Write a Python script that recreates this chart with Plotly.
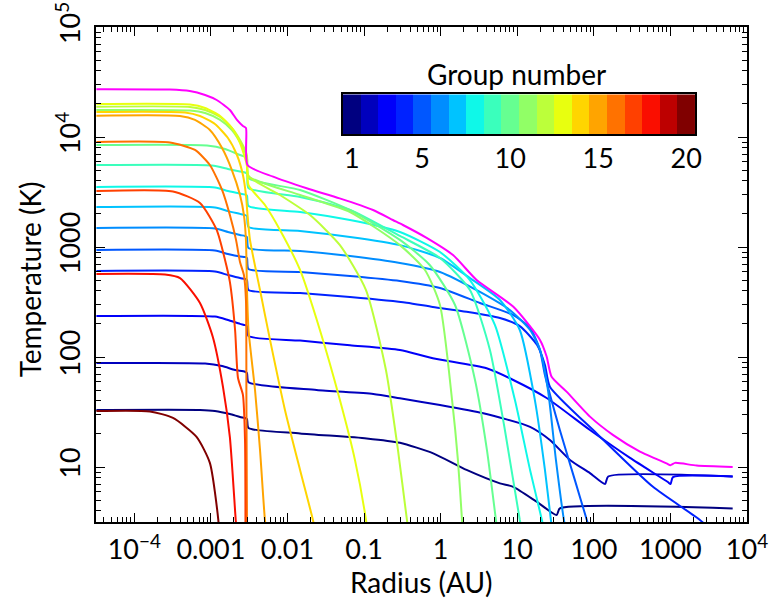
import numpy as np
import plotly.graph_objects as go

# ---------------- data (radius in AU, temperature in K) ----------------
R_TOTAL = [3.2e-5, 2.9e-4, 5.3e-4, 8.4e-4, 1.19e-3, 1.77e-3, 2.19e-3, 2.62e-3, 2.87e-3, 3.01e-3,
           6.5e-3, 0.0178, 0.048, 0.131, 0.238, 0.322, 0.656, 1.45, 2.95, 8.9, 19.8, 24.2, 28.1,
           44, 89, 179, 400, 890, 1000, 1150, 2200, 6500]
T_TOTAL = [27200, 27000, 26200, 24100, 21700, 17600, 14300, 12600, 12100, 5560,
           4360, 3420, 2770, 2170, 1760, 1585, 1210, 845, 501, 286, 143, 101, 66,
           48.4, 28.7, 19.5, 13.8, 10.8, 10.4, 10.9, 10.3, 10.0]

R_G1 = [3.2e-5, 7.2e-4, 1.13e-3, 1.77e-3, 2.4e-3, 2.79e-3, 2.96e-3, 3.1e-3, 0.0146, 0.108, 0.294, 0.8, 2.18, 5.94, 8.87, 17.9, 32.7, 36, 6500]
T_G1 = [33, 33, 32.3, 30.3, 28.5, 27.9, 27.3, 22.6, 20.2, 18.2, 16.6, 13.3, 9.4, 7.1, 6.6, 4.84, 3.66, 4.2, 4.2]

R_G2 = [3.2e-5, 8.4e-4, 1.4e-3, 2.07e-3, 2.79e-3, 2.96e-3, 3.1e-3, 0.024, 0.132, 0.294, 0.98, 3.6, 14.7, 26.7, 48.8, 89, 140, 154, 6500]
T_G2 = [88, 87.3, 82.8, 76.2, 73.5, 71.6, 58.9, 50.1, 46.1, 42.1, 36.6, 30.8, 23.2, 17.6, 11.6, 8.8, 7.0, 8.2, 8.2]

R_G3 = [3.2e-5, 1.13e-3, 1.67e-3, 2.4e-3, 2.79e-3, 2.96e-3, 3.1e-3, 0.0146, 0.0655, 0.294, 0.79, 3.98, 8.87, 24.2, 89, 297, 925, 1005, 1079, 6500]
T_G3 = [236, 233, 217, 200, 195, 191, 155, 141, 128, 116, 97.3, 78.9, 61.8, 42.4, 21.7, 12.1, 7.3, 7.0, 8.1, 8.2]

R_G4 = [3.2e-5, 1.13e-3, 1.67e-3, 2.4e-3, 2.79e-3, 2.96e-3, 3.1e-3, 0.0146, 0.0655, 0.36, 0.79, 2.18, 5.94, 10.8, 18.1, 23, 26.7, 109, 592, 2430, 3810]
T_G4 = [605, 598, 556, 522, 512, 501, 406, 382, 351, 312, 285, 258, 226, 191, 129, 84.6, 53.7, 20.2, 6.6, 3.3, 2.46]

R_G5 = [3.2e-5, 1.13e-3, 1.67e-3, 2.4e-3, 2.79e-3, 2.96e-3, 3.1e-3, 0.0146, 0.0655, 0.294, 0.98, 3.26, 8.8, 14.7, 19.8, 23, 36, 56.6, 81, 89]
T_G5 = [940, 929, 863, 820, 811, 794, 631, 593, 545, 491, 424, 310, 241, 184, 116, 68.6, 21.7, 7.6, 3.3, 2.67]

R_G6 = [3.2e-5, 1.13e-3, 1.67e-3, 2.4e-3, 2.79e-3, 2.96e-3, 3.1e-3, 0.0146, 0.0655, 0.294, 0.98, 3.26, 8.0, 14.7, 19.8, 25.2, 32.0, 40.7, 43.2]
T_G6 = [1490, 1473, 1368, 1285, 1260, 1233, 979, 920, 828, 716, 593, 390, 267, 176, 116, 50.1, 11.6, 3.3, 2.67]

R_G7 = [3.2e-5, 1.13e-3, 1.67e-3, 2.4e-3, 2.79e-3, 2.96e-3, 3.1e-3, 0.0146, 0.0655, 0.294, 0.98, 2.41, 5.94, 10.8, 17.0, 23, 27.5, 29.2]
T_G7 = [2310, 2290, 2120, 2000, 1950, 1910, 1520, 1400, 1233, 1040, 794, 522, 330, 176, 40.6, 9.4, 3.3, 2.41]

R_G8 = [3.2e-5, 1.13e-3, 1.67e-3, 2.4e-3, 2.79e-3, 2.96e-3, 3.1e-3, 0.0146, 0.0655, 0.294, 0.98, 2.41, 5.12, 9.33, 14.7, 21.0, 23]
T_G8 = [3510, 3470, 3230, 3060, 3000, 2940, 2360, 2080, 1760, 1370, 900, 501, 195, 40.6, 9.4, 3.3, 2.41]

R_G9 = [3.2e-5, 1.03e-3, 1.67e-3, 2.4e-3, 2.79e-3, 2.96e-3, 3.1e-3, 0.0146, 0.0655, 0.294, 0.98, 2.41, 4.4, 6.9, 10.8, 11.9]
T_G9 = [5560, 5510, 5120, 4860, 4760, 4660, 3440, 2850, 2170, 1260, 794, 406, 116, 21.7, 3.3, 2.41]

R_G10 = [3.2e-5, 8.9e-4, 1.53e-3, 2.4e-3, 2.79e-3, 2.96e-3, 3.1e-3, 0.0146, 0.0655, 0.294, 0.72, 1.54, 2.81, 4.02, 5.27, 5.6]
T_G10 = [8460, 8370, 7780, 6860, 6620, 6440, 4240, 3300, 2170, 1160, 686, 297, 61.8, 14.3, 3.3, 2.41]

R_G11 = [3.2e-5, 5.33e-4, 8.4e-4, 1.32e-3, 1.88e-3, 2.4e-3, 2.79e-3, 2.96e-3, 3.1e-3, 0.0146, 0.0655, 0.294, 0.624, 0.98, 1.41, 1.68, 1.9, 1.95]
T_G11 = [17600, 17400, 16500, 14290, 11580, 9010, 7310, 6440, 4420, 2970, 2080, 1040, 618, 297, 40.6, 11.6, 3.3, 2.41]

R_G12 = [3.2e-5, 5.33e-4, 8.4e-4, 1.32e-3, 1.88e-3, 2.4e-3, 2.79e-3, 2.96e-3, 3.1e-3, 7.98e-3, 0.0197, 0.0484, 0.106, 0.193, 0.277, 0.363, 0.385]
T_G12 = [18860, 18740, 17600, 15200, 12080, 9390, 7620, 6720, 4420, 2970, 1950, 1040, 406, 76.2, 14.3, 3.3, 2.41]

R_G13 = [3.2e-5, 5.33e-4, 8.4e-4, 1.32e-3, 1.88e-3, 2.4e-3, 2.79e-3, 2.96e-3, 3.1e-3, 5.08e-3, 7.98e-3, 0.0146, 0.0265, 0.0484, 0.076, 0.106, 0.112]
T_G13 = [19950, 19730, 18360, 15520, 12080, 8820, 6440, 5450, 3660, 2410, 1430, 618, 176, 40.6, 11.6, 3.3, 2.41]

R_G14 = [3.2e-5, 4.6e-4, 7.2e-4, 1.13e-3, 1.67e-3, 2.19e-3, 2.62e-3, 2.87e-3, 3.01e-3, 3.24e-3, 4.38e-3, 5.92e-3, 9.27e-3, 0.0146, 0.0215, 0.0235]
T_G14 = [16900, 16700, 15520, 13120, 9790, 6860, 4520, 2970, 1950, 1160, 406, 143, 33, 9.4, 3.3, 2.41]

R_G15 = [3.2e-5, 3.95e-4, 6.2e-4, 9.7e-4, 1.4e-3, 1.88e-3, 2.4e-3, 2.7e-3, 2.87e-3, 2.96e-3, 3.1e-3, 3.77e-3, 4.38e-3, 5.08e-3, 5.4e-3]
T_G15 = [15630, 15520, 14290, 11580, 7940, 5010, 2970, 1950, 1160, 406, 176, 50.1, 14.3, 3.3, 2.41]

R_G16 = [3.2e-5, 2.92e-4, 6.2e-4, 9.7e-4, 1.4e-3, 1.77e-3, 2.13e-3, 2.4e-3, 2.7e-3, 2.87e-3, 2.91e-3, 2.96e-3]
T_G16 = [9010, 8910, 7620, 5560, 3300, 1950, 1160, 731, 556, 330, 40.6, 2.67]

R_G17 = [3.2e-5, 3.2e-4, 7.2e-4, 1.19e-3, 1.53e-3, 1.77e-3, 2.07e-3, 2.26e-3, 2.62e-3, 2.79e-3, 2.83e-3]
T_G17 = [3230, 3200, 2510, 1430, 762, 481, 176, 64.4, 45.2, 17.6, 2.67]

R_G18 = [3.2e-5, 2.52e-4, 3.95e-4, 7.2e-4, 1.06e-3, 1.44e-3, 1.77e-3, 2.11e-3, 2.19e-3]
T_G18 = [569, 562, 522, 310, 152, 53.3, 18.7, 3.3, 2.41]

R_G20 = [3.2e-5, 1.6e-4, 3.2e-4, 6.5e-4, 9.7e-4, 1.25e-3, 1.28e-3]
T_G20 = [32.3, 32.0, 27.9, 18.8, 10.9, 3.3, 2.41]

GROUPS = [1, 2, 3, 4, 5, 6, 7, 8, 9, 10, 11, 12, 13, 14, 15, 16, 17, 18, 20]
CURVES = [(R_G1, T_G1), (R_G2, T_G2), (R_G3, T_G3), (R_G4, T_G4), (R_G5, T_G5),
          (R_G6, T_G6), (R_G7, T_G7), (R_G8, T_G8), (R_G9, T_G9), (R_G10, T_G10),
          (R_G11, T_G11), (R_G12, T_G12), (R_G13, T_G13), (R_G14, T_G14), (R_G15, T_G15),
          (R_G16, T_G16), (R_G17, T_G17), (R_G18, T_G18), (R_G20, T_G20)]

N_GROUPS = 20
CBAR_GROUPS = list(range(1, N_GROUPS + 1))
CBAR_TICKS = [1, 5, 10, 15, 20]

X_TICKVALS = [1e-4, 1e-3, 1e-2, 1e-1, 1, 10, 100, 1000, 1e4]
X_TICKTEXT = ["10<sup>\u22124</sup>", "0.001", "0.01", "0.1", "1", "10", "100", "1000", "10<sup>4</sup>"]
Y_TICKVALS = [10, 100, 1000, 1e4, 1e5]
Y_TICKTEXT = ["10", "100", "1000", "10<sup>4</sup>", "10<sup>5</sup>"]


# ---------------- styling ----------------
def jet(v):
    r = np.interp(v, [0, 0.35, 0.66, 0.89, 1], [0, 0, 1, 1, 0.5])
    g = np.interp(v, [0, 0.125, 0.375, 0.64, 0.91, 1], [0, 0, 1, 1, 0, 0])
    b = np.interp(v, [0, 0.11, 0.34, 0.65, 1], [0.5, 1, 1, 0, 0])
    return "rgb(%d,%d,%d)" % (round(r * 255), round(g * 255), round(b * 255))


def gcolor(i):
    return jet((i - 1) / (N_GROUPS - 1))


FONT = "Lato"
TICK_SIZE = 27
TITLE_SIZE = 28
fig = go.Figure()

for g, (r, t) in zip(GROUPS, CURVES):
    fig.add_trace(go.Scatter(x=r, y=t, mode="lines",
                             line=dict(color=gcolor(g), width=2, shape="spline", smoothing=0.6),
                             showlegend=False, hoverinfo="skip"))

fig.add_trace(go.Scatter(x=R_TOTAL, y=T_TOTAL, mode="lines",
                         line=dict(color="rgb(255,0,255)", width=2, shape="spline", smoothing=0.6),
                         showlegend=False, hoverinfo="skip"))

# discrete colour bar
cs = []
for k, g in enumerate(CBAR_GROUPS):
    c = gcolor(g)
    cs.append([k / N_GROUPS, c])
    cs.append([(k + 1) / N_GROUPS, c])
fig.add_trace(go.Heatmap(x=CBAR_GROUPS, y=[0], z=[CBAR_GROUPS], zmin=0.5, zmax=N_GROUPS + 0.5,
                         colorscale=cs, showscale=False, xaxis="x2", yaxis="y2", hoverinfo="skip"))

axis_common = dict(showline=True, linecolor="black", linewidth=2, mirror="ticks",
                   ticks="inside", ticklen=9, tickwidth=1.2, tickcolor="black",
                   showgrid=False, zeroline=False, automargin=False,
                   tickfont=dict(family=FONT, size=TICK_SIZE, color="black"),
                   minor=dict(ticks="inside", ticklen=5, tickwidth=1, tickcolor="black",
                              dtick="D1", showgrid=False))

fig.update_layout(
    width=772, height=607,
    margin=dict(l=96, r=25, t=27, b=85, autoexpand=False),
    paper_bgcolor="white", plot_bgcolor="white",
    xaxis=dict(type="log", range=[-4.5, 4], tickmode="array", tickvals=X_TICKVALS,
               ticktext=X_TICKTEXT, ticklabelstandoff=3, **axis_common),
    yaxis=dict(type="log", range=[0.5, 5], tickmode="array", tickvals=Y_TICKVALS,
               ticktext=Y_TICKTEXT, tickangle=-90, ticklabelstandoff=3, **axis_common),
    xaxis2=dict(domain=[0.3794, 0.9201], anchor="y2", range=[0.5, N_GROUPS + 0.5],
                tickmode="array", tickvals=CBAR_TICKS, ticks="", showgrid=False, zeroline=False,
                showline=True, mirror=True, linecolor="black", linewidth=1.5, automargin=False,
                ticklabelstandoff=0,
                tickfont=dict(family=FONT, size=TICK_SIZE, color="black")),
    yaxis2=dict(domain=[0.784, 0.864], anchor="x2", range=[-0.5, 0.5], showticklabels=False,
                ticks="", showgrid=False, zeroline=False, automargin=False,
                showline=True, mirror=True, linecolor="black", linewidth=1.5),
    annotations=[
        dict(text="Radius (AU)", xref="paper", yref="paper", x=0.5, y=-0.121,
             xanchor="center", yanchor="middle", showarrow=False,
             font=dict(family=FONT, size=TITLE_SIZE, color="black")),
        dict(text="Temperature (K)", xref="paper", yref="paper", x=-0.1, y=0.49,
             xanchor="center", yanchor="middle", textangle=-90, showarrow=False,
             font=dict(family=FONT, size=TITLE_SIZE, color="black")),
        dict(text="Group number", xref="paper", yref="paper", x=0.646, y=0.905,
             xanchor="center", yanchor="middle", showarrow=False,
             font=dict(family=FONT, size=TITLE_SIZE, color="black")),
    ],
)

fig.write_html("out.html")
